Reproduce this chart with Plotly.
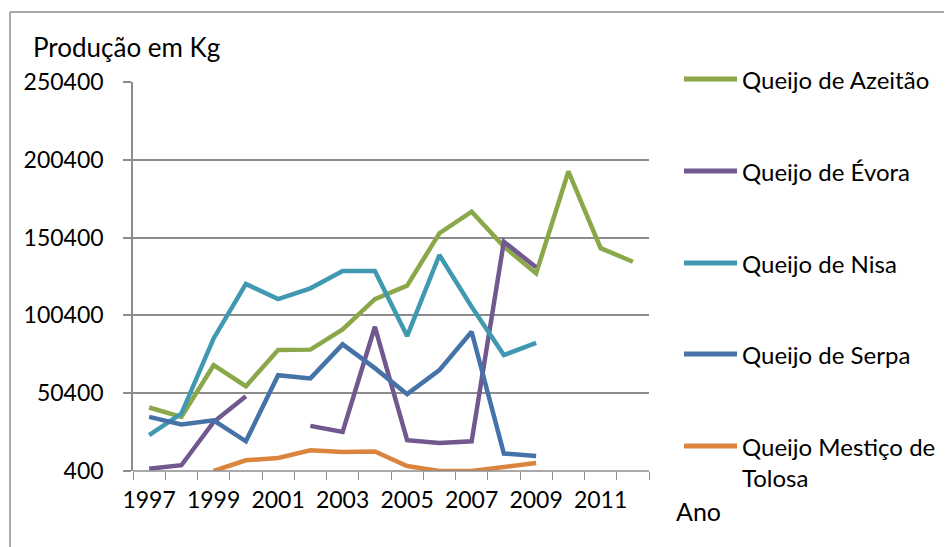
import plotly.graph_objects as go

# anos (eixo x) e produção em kg por queijo
anos = list(range(1997, 2013))

azeitao = [41200, 35200, 68400, 54900, 78100, 78400, 91400, 110900,
           119500, 153200, 167100, 144600, 127400, 192900, 143600, 134900]
evora = [1900, 4100, 31900, 48500, None, 29400, 25500, 93100,
         20200, 18400, 19500, 147800, 131300]
nisa = [23400, 37300, 85600, 120600, 110900, 117800, 128900, 128900,
        87100, 139200, 106000, 74900, 82800]
serpa = [35200, 30300, 33000, 19500, 62000, 59900, 81800, 66500,
         49800, 65200, 89900, 11600, 10100]
tolosa = [None, None, 400, 7300, 8800, 13700, 12600, 12900,
          3600, 400, 400, 3000, 5500]

y_ticks = [400, 50400, 100400, 150400, 200400, 250400]
x_labels = [1997, 1999, 2001, 2003, 2005, 2007, 2009, 2011]

series = [
    ("Queijo de Azeitão", azeitao, "#8aa84a"),
    ("Queijo de Évora", evora, "#71598f"),
    ("Queijo de Nisa", nisa, "#4199b1"),
    ("Queijo de Serpa", serpa, "#4572a7"),
    ("Queijo Mestiço de<br>Tolosa", tolosa, "#db843d"),
]

FONT = "Lato"
GRID = "#8c8c8c"

# a página tem 8px de margem no body: a figura ocupa 944x539
W, H = 944, 539
L, T = 125, 74
PW, PH = 516, 389


def px(x):
    # coordenada x da referência -> papel
    return (x - 133) / PW


def py(y):
    # coordenada y da referência -> papel
    return (471 - y) / PH


fig = go.Figure()
for name, vals, color in series:
    fig.add_trace(go.Scatter(
        x=anos[:len(vals)],
        y=vals,
        mode="lines",
        name=name,
        line=dict(color=color, width=4.5),
        connectgaps=False,
        showlegend=False,
    ))

annotations = [
    dict(text="Produção em Kg", x=px(31), y=py(47),
         xanchor="left", yanchor="middle", font=dict(size=26)),
    dict(text="Ano", x=px(674), y=py(511),
         xanchor="left", yanchor="middle", font=dict(size=25)),
]
shapes = [
    # contorno do gráfico (topo e esquerda)
    dict(type="line", x0=px(10), x1=px(960), y0=py(12), y1=py(12),
         line=dict(color=GRID, width=1.5)),
    dict(type="line", x0=px(10), x1=px(10), y0=py(12), y1=py(560),
         line=dict(color=GRID, width=1.5)),
    # linha de base do eixo x
    dict(type="line", x0=0, x1=1, y0=0, y1=0,
         line=dict(color=GRID, width=1.5)),
]

# legenda desenhada à mão (amostras longas como no original)
legend_y = [79, 171, 263, 354, 462]
for (name, vals, color), ly in zip(series, legend_y):
    sample_y = ly if "<br>" not in name else ly - 16
    shapes.append(dict(type="line", x0=px(684), x1=px(737),
                       y0=py(sample_y), y1=py(sample_y),
                       line=dict(color=color, width=5)))
    annotations.append(dict(text=name, x=px(740), y=py(ly),
                            xanchor="left", yanchor="middle", align="left",
                            font=dict(size=24)))

for a in annotations:
    a.update(xref="paper", yref="paper", showarrow=False)
for s in shapes:
    s.update(xref="paper", yref="paper")

fig.update_layout(
    width=W, height=H,
    paper_bgcolor="white", plot_bgcolor="white",
    margin=dict(l=L, r=W - L - PW, t=T, b=H - T - PH, autoexpand=False),
    font=dict(family=FONT, size=23, color="black"),
    showlegend=False,
    xaxis=dict(
        range=[1996.5, 2012.5],
        tickvals=x_labels, ticktext=[str(v) for v in x_labels],
        ticks="", showgrid=False, zeroline=False, showline=False,
        minor=dict(ticks="outside", ticklen=8, tickcolor=GRID,
                   tick0=1996.5, dtick=1, showgrid=False),
        tickfont=dict(size=23),
        ticklabelstandoff=13,
        automargin=False,
    ),
    yaxis=dict(
        range=[400, 250400],
        tickvals=y_ticks, ticktext=[str(v) for v in y_ticks],
        ticks="outside", ticklen=8, tickcolor=GRID, tickwidth=1.5,
        showgrid=True, gridcolor=GRID, gridwidth=1.5,
        zeroline=False, showline=True, linecolor=GRID, linewidth=1.5,
        tickfont=dict(size=23),
        ticklabelstandoff=15,
        automargin=False,
    ),
    annotations=annotations,
    shapes=shapes,
)

fig.write_html("out.html")
